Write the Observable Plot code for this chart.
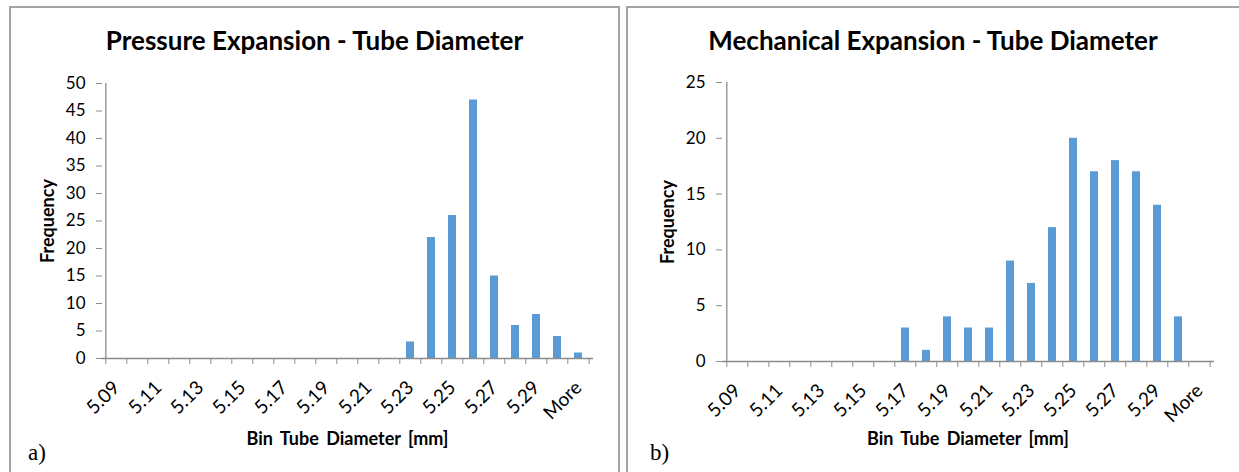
<!DOCTYPE html>
<html>
<head>
<meta charset="utf-8">
<script src="https://cdn.jsdelivr.net/npm/d3@7"></script>
<script src="https://cdn.jsdelivr.net/npm/@observablehq/plot@0.6"></script>
<style>
  body { margin: 0; background: #fff; }
  #root { position: relative; width: 1239px; height: 472px; overflow: hidden; background: #fff; font-family: Lato, "Open Sans", sans-serif; color: #000; }
  .panel { position: absolute; border: 2px solid #a3a3a3; box-sizing: border-box; }
  .chart { position: absolute; top: 0; }
  .txt { position: absolute; white-space: nowrap; line-height: 1; }
  .title { font-weight: bold; font-size: 26px; text-align: center; }
  .ylab { font-weight: bold; font-size: 18px; transform: translate(-50%, -50%) rotate(-90deg); }
  .xlab { font-weight: bold; font-size: 18px; word-spacing: 3px; transform: translate(-50%, -50%); }
  .tag { font-family: "Liberation Serif", "DejaVu Serif", serif; font-size: 23px; }
</style>
</head>
<body>
<div id="root">
  <div class="panel" style="left:9px; top:6px; width:611px; height:480px;"></div>
  <div class="panel" style="left:626px; top:6px; width:620px; height:480px;"></div>
</div>
<script>
// ---- data ----
const categories = ["5.09","5.10","5.11","5.12","5.13","5.14","5.15","5.16","5.17","5.18","5.19","5.20",
                    "5.21","5.22","5.23","5.24","5.25","5.26","5.27","5.28","5.29","5.30","More"];
const tickLabels = ["5.09","5.11","5.13","5.15","5.17","5.19","5.21","5.23","5.25","5.27","5.29","More"];
const pressureCounts   = [0,0,0,0,0,0,0,0,0,0,0,0,0,0,3,22,26,47,15,6,8,4,1];
const mechanicalCounts = [0,0,0,0,0,0,0,0,3,1,4,3,3,9,7,12,20,17,18,17,14,4,0];
const pressureYTicks   = [0,5,10,15,20,25,30,35,40,45,50];
const mechanicalYTicks = [0,5,10,15,20,25];
const titles = ["Pressure Expansion - Tube Diameter", "Mechanical Expansion - Tube Diameter"];
const yTitle = "Frequency";
const xTitle = "Bin Tube Diameter [mm]";
const tags = ["a)", "b)"];

const barColor = "#5B9BD5";
const axisGray = "#8c8c8c";

function chart(counts, yTicks, m) {
  const data = categories.map((c, i) => ({bin: c, count: counts[i]}));
  const ymax = yTicks[yTicks.length - 1];
  const step = (m.width - m.left - m.right) / categories.length;
  return Plot.plot({
    width: m.width,
    height: 472,
    marginLeft: m.left, marginRight: m.right, marginTop: m.top, marginBottom: m.bottom,
    x: {type: "band", domain: categories, paddingInner: 0.6, paddingOuter: 0.3},
    y: {domain: [0, ymax]},
    style: {fontFamily: "Lato, 'Open Sans', sans-serif", fontSize: "17px", color: "#000", background: "transparent", overflow: "visible"},
    marks: [
      Plot.barY(data, {x: "bin", y: "count", fill: barColor}),
      Plot.ruleY([0], {stroke: axisGray, strokeWidth: 1.3}),
      Plot.ruleX([categories[0]], {dx: -step / 2, y1: 0, y2: ymax, stroke: axisGray, strokeWidth: 1.3}),
      Plot.axisY({ticks: yTicks, tickSize: 6, tickFormat: () => "", stroke: axisGray, label: null}),
      Plot.axisY({ticks: yTicks, tickSize: 0, tickPadding: 17, fontSize: 17, label: null}),
      Plot.axisX({ticks: categories, tickSize: 6, tickFormat: () => "", dx: -step / 2, stroke: axisGray, label: null}),
      Plot.axisX({ticks: [categories[categories.length - 1]], tickSize: 6, tickFormat: () => "", dx: step / 2, stroke: axisGray, label: null}),
      Plot.axisX({ticks: tickLabels, tickSize: 0, tickRotate: -45, tickPadding: 26, dx: 0, fontSize: 19, label: null})
    ]
  });
}

const root = document.getElementById("root");
const specs = [
  {counts: pressureCounts, yTicks: pressureYTicks, m: {width: 620, left: 102, right: 27, top: 83, bottom: 114}, x0: 0},
  {counts: mechanicalCounts, yTicks: mechanicalYTicks, m: {width: 619, left: 102, right: 25, top: 82, bottom: 111}, x0: 620}
];

specs.forEach((s, k) => {
  const svg = chart(s.counts, s.yTicks, s.m);
  svg.classList.add("chart");
  svg.style.left = s.x0 + "px";
  root.appendChild(svg);

  const plotCx = s.x0 + s.m.left + (s.m.width - s.m.left - s.m.right) / 2;
  const plotCy = (s.m.top + (472 - s.m.bottom)) / 2;

  const t = document.createElement("div");
  t.className = "txt title";
  t.textContent = titles[k];
  t.style.left = (k === 0 ? 10 : 627) + "px";
  t.style.width = (k === 0 ? 609 : 612) + "px";
  t.style.top = "27px";
  root.appendChild(t);

  const yl = document.createElement("div");
  yl.className = "txt ylab";
  yl.textContent = yTitle;
  yl.style.left = (s.x0 + 47) + "px";
  yl.style.top = plotCy + "px";
  root.appendChild(yl);

  const xl = document.createElement("div");
  xl.className = "txt xlab";
  xl.textContent = xTitle;
  xl.style.left = plotCx + "px";
  xl.style.top = "438px";
  root.appendChild(xl);

  const tg = document.createElement("div");
  tg.className = "txt tag";
  tg.textContent = tags[k];
  tg.style.left = (k === 0 ? 28 : 650) + "px";
  tg.style.top = "441px";
  root.appendChild(tg);
});
</script>
</body>
</html>
